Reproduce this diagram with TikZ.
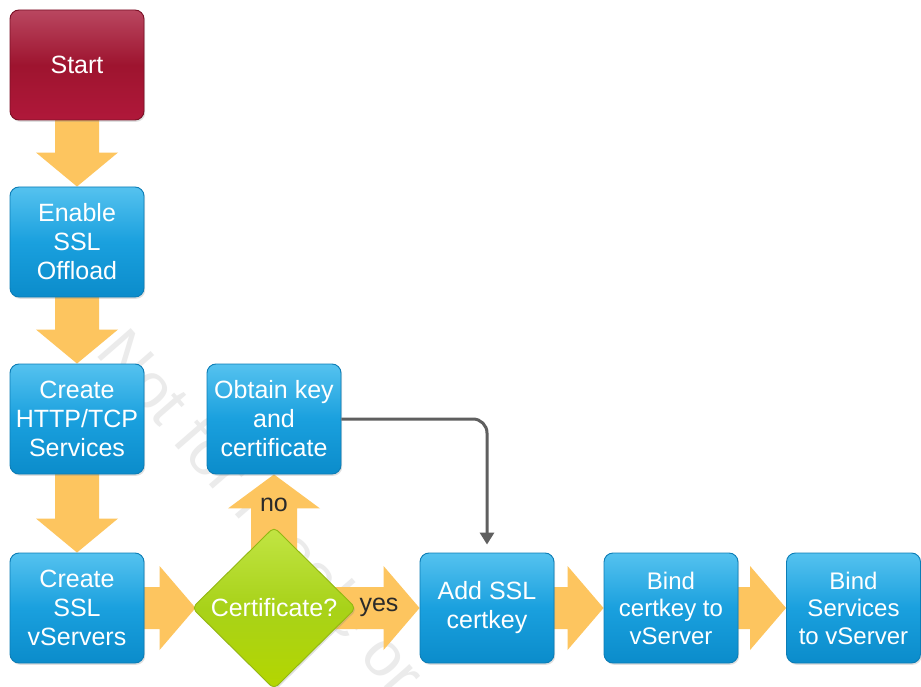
\documentclass[tikz,border=0pt]{standalone}
\usepackage{fontspec}
\setmainfont{Liberation Sans}
\usetikzlibrary{shapes.geometric,calc,arrows.meta,shadows}

\definecolor{boxtop}{HTML}{55C2EF}
\definecolor{boxmid}{HTML}{1AA0DE}
\definecolor{boxbot}{HTML}{0B8CCB}
\definecolor{boxline}{HTML}{0C7DB6}
\definecolor{starttop}{HTML}{B94760}
\definecolor{startmid}{HTML}{9E142F}
\definecolor{startbot}{HTML}{B0183A}
\definecolor{startline}{HTML}{7A1025}
\definecolor{dectop}{HTML}{C2E544}
\definecolor{decmid}{HTML}{A8D219}
\definecolor{decbot}{HTML}{B4D600}
\definecolor{decline}{HTML}{93B812}
\definecolor{flow}{HTML}{FDC55F}
\definecolor{linkgray}{HTML}{5F5F5F}
\definecolor{labeldark}{HTML}{2A2A2A}

\pgfdeclarelayer{wm}
\pgfdeclarelayer{bg}
\pgfsetlayers{wm,bg,main}

\tikzset{
  boxshadow/.style={drop shadow={opacity=0.25,shadow xshift=1.2pt,shadow yshift=-1.8pt}},
  stepbox/.style={rectangle, rounded corners=9pt, minimum width=134pt,
    minimum height=110pt, inner sep=0pt, draw=boxline, line width=0.9pt,
    top color=boxtop, bottom color=boxbot, middle color=boxmid,
    text=white, align=center, font=\fontsize{25}{29}\selectfont, boxshadow},
  startbox/.style={stepbox, draw=startline, top color=starttop,
    bottom color=startbot, middle color=startmid},
  decision/.style={diamond, minimum width=164pt, minimum height=162pt,
    inner sep=0pt, rounded corners=5pt, draw=decline, line width=0.9pt,
    top color=dectop, bottom color=decbot, middle color=decmid,
    text=white, font=\fontsize{25}{29}\selectfont, boxshadow},
  flowfill/.style={fill=flow},
  flowlabel/.style={text=labeldark, inner sep=0pt, font=\fontsize{25}{29}\selectfont},
  graylink/.style={draw=linkgray, line width=3pt, rounded corners=14pt,
    -{Triangle[width=14pt,length=12pt]}, shorten >=8pt},
  watermark/.style={text=black!8, inner sep=0pt, font=\fontsize{64}{64}\selectfont}
}

% block arrow pointing down, from the bottom of one node to the top of the next
\newcommand\flowdown[2]{%
  \fill[flowfill] let \p1=#1, \p2=#2 in
    (\x1-22pt,\y1+2pt) -- (\x1+22pt,\y1+2pt) -- (\x1+22pt,\y2+34pt) --
    (\x1+41pt,\y2+34pt) -- (\x1,\y2) -- (\x1-41pt,\y2+34pt) --
    (\x1-22pt,\y2+34pt) -- cycle;}
% block arrow pointing up
\newcommand\flowup[2]{%
  \fill[flowfill] let \p1=#1, \p2=#2 in
    (\x1-23pt,\y1) -- (\x1+23pt,\y1) -- (\x1+23pt,\y2-34pt) --
    (\x1+46pt,\y2-34pt) -- (\x1,\y2) -- (\x1-46pt,\y2-34pt) --
    (\x1-23pt,\y2-34pt) -- cycle;}
% block arrow pointing right
\newcommand\flowright[2]{%
  \fill[flowfill] let \p1=#1, \p2=#2 in
    (\x1-2pt,\y1+21pt) -- (\x2-36pt,\y1+21pt) -- (\x2-36pt,\y1+42pt) --
    (\x2,\y1) -- (\x2-36pt,\y1-42pt) -- (\x2-36pt,\y1-21pt) --
    (\x1-2pt,\y1-21pt) -- cycle;}

\begin{document}
\begin{tikzpicture}[x=1pt,y=-1pt]
  \useasboundingbox (0,0) rectangle (921,687);

  % process steps
  \node[startbox] (start)    at (77,65)   {Start};
  \node[stepbox]  (enable)   at (77,242)  {Enable\\SSL\\Offload};
  \node[stepbox]  (httptcp)  at (77,419)  {Create\\HTTP/TCP\\Services};
  \node[stepbox]  (vservers) at (77,608)  {Create\\SSL\\vServers};
  \node[stepbox]  (obtain)   at (274,419) {Obtain key\\and\\certificate};
  \node[decision] (cert)     at (274,608) {Certificate?};
  \node[stepbox]  (addssl)   at (487,608) {Add SSL\\certkey};
  \node[stepbox, font=\fontsize{24}{27.5}\selectfont] (bindcert) at (671,608) {Bind\\certkey to\\vServer};
  \node[stepbox, font=\fontsize{24}{27.5}\selectfont] (bindsvc)  at (853.5,608) {Bind\\Services\\to vServer};

  % branch labels
  \node[flowlabel] (nolabel)  at (274,505) {no};
  \node[flowlabel] (yeslabel) at (379,607) {yes};

  % flow arrows behind the steps
  \begin{pgfonlayer}{bg}
    \flowdown{(start.south)}{(enable.north)}
    \flowdown{(enable.south)}{(httptcp.north)}
    \flowdown{(httptcp.south)}{(vservers.north)}
    \flowright{(vservers.east)}{([xshift=4pt]cert.west)}
    \flowup{(cert.center)}{(obtain.south)}
    \flowright{(cert.center)}{(addssl.west)}
    \flowright{(addssl.east)}{(bindcert.west)}
    \flowright{(bindcert.east)}{(bindsvc.west)}
  \end{pgfonlayer}

  % obtained certificate goes to the certkey step
  \draw[graylink] (obtain.east) -| (addssl.north);

  % white page with a faint diagonal watermark, under everything
  \begin{pgfonlayer}{wm}
    \fill[white] (0,0) rectangle (921,687);
    \begin{scope}
      \clip (0,0) rectangle (921,687);
      \node[watermark, rotate=-49, anchor=west] (wmtext) at (112,338) {Not for resale or};
    \end{scope}
  \end{pgfonlayer}
\end{tikzpicture}
\end{document}
